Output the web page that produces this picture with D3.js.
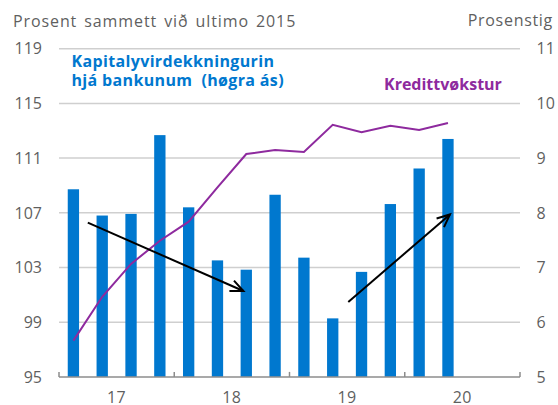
<!DOCTYPE html>
<html>
<head>
<meta charset="utf-8">
<script src="https://cdn.jsdelivr.net/npm/d3@7"></script>
<style>
  html, body { margin: 0; padding: 0; background: #fff; }
  svg { display: block; }
  text { font-family: "Open Sans", sans-serif; }
</style>
</head>
<body>
<svg id="chart" width="558" height="405"></svg>
<script>
// ---- Data ----
const quarters = ["2017K1","2017K2","2017K3","2017K4","2018K1","2018K2","2018K3","2018K4",
                  "2019K1","2019K2","2019K3","2019K4","2020K1","2020K2","2020K3","2020K4"];
const years = ["17","18","19","20"];
const capitalCoverage = [8.43, 7.95, 7.98, 9.42, 8.10, 7.13, 6.96, 8.33, 7.18, 6.07, 6.92, 8.16, 8.81, 9.35];
const creditGrowth = [97.65, 100.86, 103.26, 104.96, 106.35, 108.86, 111.30, 111.59, 111.45, 113.44, 112.89, 113.37, 113.05, 113.57];
const leftTicks = [95, 99, 103, 107, 111, 115, 119];
const rightTicks = [5, 6, 7, 8, 9, 10, 11];
// arrows: [quarter position, right-axis value]
const arrowFrom = [[1.0, 7.82], [10.04, 6.37]];
const arrowTo = [[6.40, 6.57], [13.57, 7.97]];
const leftTitle = "Prosent sammett við ultimo 2015";
const rightTitle = "Prosenstig";
const barLabel = ["Kapitalyvirdekkningurin", "hjá bankunum\u00a0 (høgra ás)"];
const lineLabel = "Kredittvøkstur";

// ---- Layout ----
const L = 59, R = 520, T = 48.7, B = 376.9;
const BLUE = "#0078cf", PURPLE = "#8e2a9e", GREY = "#5f5f5f";

const svg = d3.select("#chart");

const x = d3.scaleBand().domain(quarters).range([L, R]).paddingInner(0.607).paddingOuter(0.3035);
const xPos = d3.scaleLinear().domain([0, quarters.length]).range([L, R]);
const xYear = d3.scaleBand().domain(years).range([L, R]);
const yL = d3.scaleLinear().domain([95, 119]).range([B, T]);
const yR = d3.scaleLinear().domain([5, 11]).range([B, T]);

// gridlines
svg.append("g").selectAll("line").data(leftTicks.slice(1)).join("line")
  .attr("x1", L).attr("x2", R)
  .attr("y1", d => yL(d)).attr("y2", d => yL(d))
  .attr("stroke", "#cfcfcf").attr("stroke-width", 1.5);

// bars
svg.append("g").selectAll("rect").data(capitalCoverage).join("rect")
  .attr("x", (d, i) => x(quarters[i]))
  .attr("width", x.bandwidth())
  .attr("y", d => yR(d))
  .attr("height", d => yR(5) - yR(d))
  .attr("fill", BLUE);

// line
const line = d3.line()
  .x((d, i) => x(quarters[i]) + x.bandwidth() / 2)
  .y(d => yL(d));
svg.append("path").datum(creditGrowth)
  .attr("d", line)
  .attr("fill", "none").attr("stroke", PURPLE).attr("stroke-width", 2);

// bottom axis
const axisB = svg.append("g").attr("transform", `translate(0,${B})`);
axisB.append("line").attr("x1", L).attr("x2", R).attr("stroke", "#8c8c8c").attr("stroke-width", 1.5);
const yearBounds = d3.range(years.length + 1).map(i => L + i * xYear.step());
axisB.selectAll("line.tick").data(yearBounds).join("line").attr("class", "tick")
  .attr("x1", d => d).attr("x2", d => d).attr("y1", 0).attr("y2", -5)
  .attr("stroke", "#8c8c8c").attr("stroke-width", 1.5);
axisB.selectAll("text").data(years).join("text")
  .attr("x", d => xYear(d) + xYear.bandwidth() / 2)
  .attr("y", 26)
  .attr("text-anchor", "middle")
  .attr("font-size", 16).attr("letter-spacing", 0.5).attr("fill", GREY)
  .text(d => d);

// left axis labels
svg.append("g").selectAll("text").data(leftTicks).join("text")
  .attr("x", 42).attr("y", d => yL(d)).attr("dy", "0.36em")
  .attr("text-anchor", "end").attr("font-size", 16).attr("fill", GREY)
  .text(d => d);

// right axis labels
svg.append("g").selectAll("text").data(rightTicks).join("text")
  .attr("x", 536.5).attr("y", d => yR(d)).attr("dy", "0.36em")
  .attr("text-anchor", "start").attr("font-size", 16).attr("fill", GREY)
  .text(d => d);

// titles
svg.append("text").attr("x", 13).attr("y", 27).attr("font-size", 16)
  .attr("letter-spacing", 0.9).attr("word-spacing", 2).attr("fill", GREY).text(leftTitle);
svg.append("text").attr("x", 553).attr("y", 26).attr("text-anchor", "end").attr("font-size", 16)
  .attr("letter-spacing", 0.7).attr("fill", GREY).text(rightTitle);

// series labels
svg.append("text").attr("x", 71.5).attr("y", 67.3).attr("font-size", 16).attr("font-weight", "bold")
  .attr("letter-spacing", 0.35).attr("fill", BLUE)
  .selectAll("tspan").data(barLabel).join("tspan")
  .attr("x", 71.5).attr("dy", (d, i) => i === 0 ? 0 : 18.7).text(d => d);
svg.append("text").attr("x", 384).attr("y", 89.5).attr("font-size", 16).attr("font-weight", "bold").attr("fill", PURPLE).text(lineLabel);

// arrows
const arm = 14, ang = Math.PI / 7.5;
arrowFrom.forEach((f, i) => {
  const t = arrowTo[i];
  const x1 = xPos(f[0]), y1 = yR(f[1]), x2 = xPos(t[0]), y2 = yR(t[1]);
  const a = Math.atan2(y2 - y1, x2 - x1);
  const g = svg.append("g").attr("stroke", "#000").attr("stroke-width", 2).attr("fill", "none");
  g.append("line").attr("x1", x1).attr("y1", y1).attr("x2", x2).attr("y2", y2);
  const p = d3.path();
  p.moveTo(x2 - arm * Math.cos(a - ang), y2 - arm * Math.sin(a - ang));
  p.lineTo(x2, y2);
  p.lineTo(x2 - arm * Math.cos(a + ang), y2 - arm * Math.sin(a + ang));
  g.append("path").attr("d", p.toString());
});
</script>
</body>
</html>
